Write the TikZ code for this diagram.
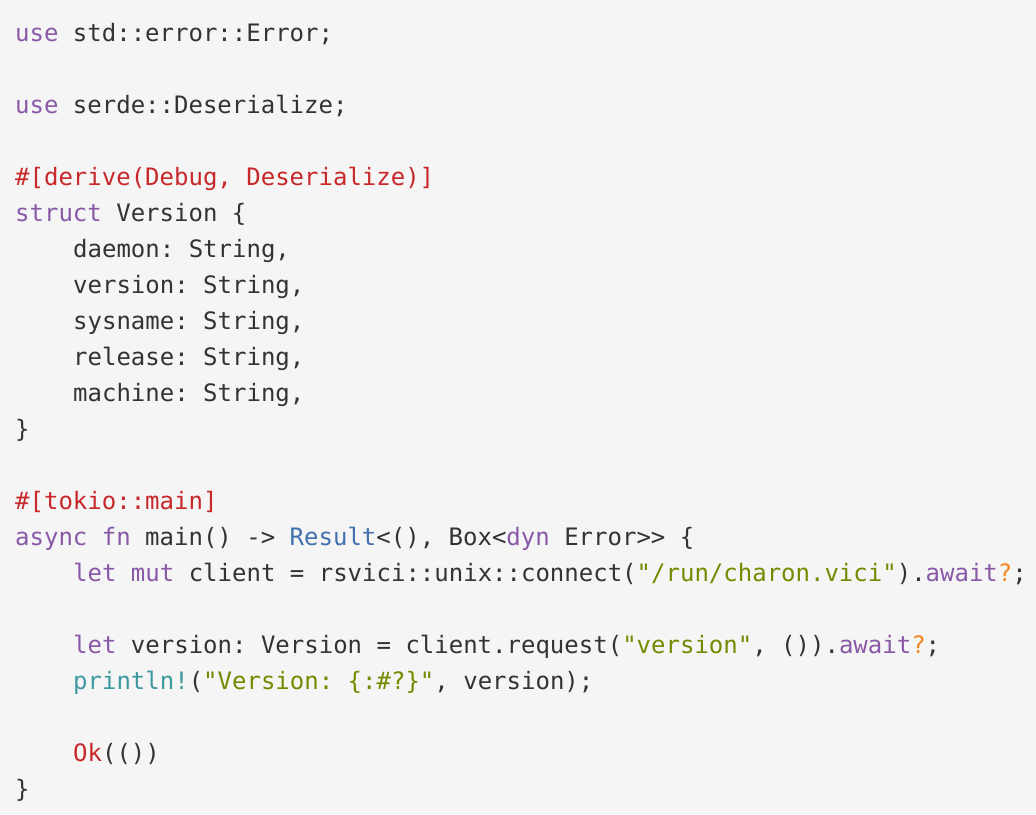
\documentclass[tikz,border=0pt]{standalone}
\usepackage{fontspec}
\setmonofont{DejaVu Sans Mono}
\definecolor{bg}{HTML}{F5F5F5}
\definecolor{tx}{HTML}{333333}
\definecolor{kw}{HTML}{8959A8}
\definecolor{at}{HTML}{C82829}
\definecolor{ty}{HTML}{4271AE}
\definecolor{st}{HTML}{718C00}
\definecolor{mc}{HTML}{3E999F}
\definecolor{qm}{HTML}{F5871F}
\newcommand\Kw[1]{\textcolor{kw}{#1}}
\newcommand\At[1]{\textcolor{at}{#1}}
\newcommand\Ty[1]{\textcolor{ty}{#1}}
\newcommand\St[1]{\textcolor{st}{#1}}
\newcommand\Mc[1]{\textcolor{mc}{#1}}
\newcommand\Qm[1]{\textcolor{qm}{#1}}
\begin{document}
\begin{tikzpicture}[x=1pt,y=1pt,
  code/.style={anchor=base west,inner sep=0pt,text=tx,font=\ttfamily\fontsize{24}{24}\selectfont}]
\fill[bg] (0,0) rectangle (1036,-814);
\useasboundingbox (0,0) rectangle (1036,-814);
\def\base#1{-#1-8}
\node[code] (l1) at (15,-41) {\Kw{use} std::error::Error;};
\node[code] (l3) at (15,-113) {\Kw{use} serde::Deserialize;};
\node[code] (l5) at (15,-185) {\At{\#[derive(Debug, Deserialize)]}};
\node[code] (l6) at (15,-221) {\Kw{struct} Version \{};
\node[code] (l7) at (73,-257) {daemon: String,};
\node[code] (l8) at (73,-293) {version: String,};
\node[code] (l9) at (73,-329) {sysname: String,};
\node[code] (l10) at (73,-365) {release: String,};
\node[code] (l11) at (73,-401) {machine: String,};
\node[code] (l12) at (15,-437) {\}};
\node[code] (l14) at (15,-509) {\At{\#[tokio::main]}};
\node[code] (l15) at (15,-545) {\Kw{async} \Kw{fn} main() -> \Ty{Result}<(), Box<\Kw{dyn} Error>> \{};
\node[code] (l16) at (73,-581) {\Kw{let} \Kw{mut} client = rsvici::unix::connect(\St{"/run/charon.vici"}).\Kw{await}\Qm{?};};
\node[code] (l18) at (73,-653) {\Kw{let} version: Version = client.request(\St{"version"}, ()).\Kw{await}\Qm{?};};
\node[code] (l19) at (73,-689) {\Mc{println!}(\St{"Version: \{:\#?\}"}, version);};
\node[code] (l21) at (73,-761) {\At{Ok}(())};
\node[code] (l22) at (15,-797) {\}};
\end{tikzpicture}
\end{document}
